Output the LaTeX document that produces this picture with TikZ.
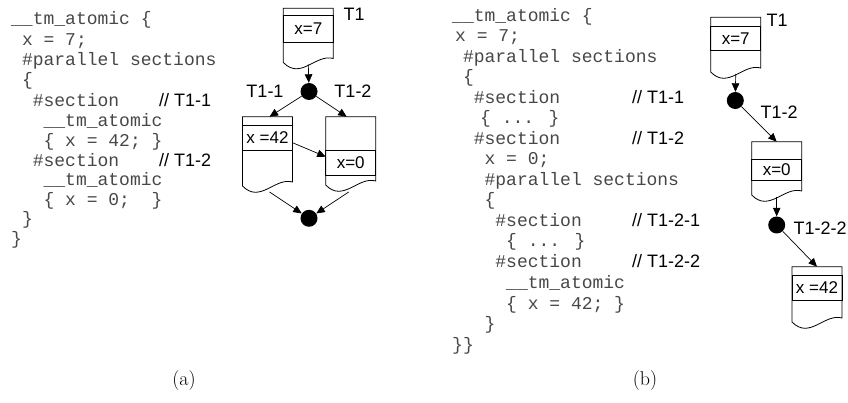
\documentclass[tikz,border=0pt]{standalone}
\usepackage{fontspec}
\newfontfamily\codefont{Liberation Mono}
\newfontfamily\labelfont{Liberation Sans}
\usetikzlibrary{arrows.meta,calc}

% outline of a "document" box: flat top, wavy bottom edge
\newcommand\docoutline[1]{%
  \draw[line width=0.8pt] (#1.north west) -- (#1.north east) -- ($(#1.south east)+(0,-6)$)
    .. controls ($(#1.south east)+(-17.5,-11)$) and ($(#1.south west)+(17.5,16)$) ..
    ($(#1.south west)+(0,-2)$) -- cycle;}

\begin{document}
\begin{tikzpicture}[x=1pt,y=-1pt,
  code/.style={anchor=base west, inner sep=0pt, font=\codefont\fontsize{18}{20}\selectfont, text=black!72},
  cmt/.style={anchor=base west, inner sep=0pt, font=\labelfont\fontsize{18}{20}\selectfont},
  lbl/.style={inner sep=0pt, font=\labelfont\fontsize{18}{20}\selectfont},
  docbox/.style={minimum width=50pt, inner sep=0pt, outer sep=0pt},
  band/.style={draw, line width=0.8pt, minimum width=50pt, inner sep=0pt, outer sep=0pt,
    font=\labelfont\fontsize{17}{20}\selectfont},
  dot/.style={circle, fill=black, minimum size=17pt, inner sep=0pt},
  arr/.style={line width=0.7pt, -{Triangle[length=8.5pt,width=7.5pt]}},
  caption/.style={inner sep=0pt, font=\fontsize{20}{24}\selectfont}
]
\useasboundingbox (0,0) rectangle (848,403);

% ---------- (a) source ----------
\node[code] (la1)  at (11,25)  {\_\_tm\_atomic \{};
\node[code] (la2)  at (11,46)  {\ x = 7;};
\node[code] (la3)  at (11,66)  {\ \#parallel sections};
\node[code] (la4)  at (11,86)  {\ \{};
\node[code] (la5)  at (11,107) {\ \ \#section};
\node[code] (la6)  at (11,127) {\ \ \ \_\_tm\_atomic};
\node[code] (la7)  at (11,147) {\ \ \ \{ x = 42; \}};
\node[code] (la8)  at (11,167) {\ \ \#section};
\node[code] (la9)  at (11,186) {\ \ \ \_\_tm\_atomic};
\node[code] (la10) at (11,206) {\ \ \ \{ x = 0;\ \ \}};
\node[code] (la11) at (11,225) {\ \}};
\node[code] (la12) at (11,244) {\}};
\node[cmt] (lc1) at (159,107) {// T1-1};
\node[cmt] (lc2) at (159,167) {// T1-2};

% ---------- (a) graph ----------
\node[docbox, minimum height=56.2pt] (t1) at (308.3,36.4) {};
\node[band, minimum height=26.6pt] (t1v) at (308.3,29) {x=7};
\docoutline{t1}
\node[lbl] (t1l) at (354,14) {T1};

\node[dot] (f1) at (309,91.5) {};
\node[lbl] (f1l) at (265,91) {T1-1};
\node[lbl] (f1r) at (353,91) {T1-2};

\node[docbox, minimum height=71.3pt] (a1) at (267.5,152.35) {};
\node[band, minimum height=25pt] (a1v) at (267.5,137.5) {x =42};
\docoutline{a1}

\node[docbox, minimum height=70.3pt] (a2) at (350.7,151.85) {};
\node[band, minimum height=24.3pt] (a2v) at (350.7,162.85) {x=0};
\docoutline{a2}

\node[dot] (j1) at (309,218.3) {};

\draw[arr] (t1.south) -- (f1);
\draw[arr] (f1) -- ($(a1.north)+(2,0)$);
\draw[arr] (f1) -- ($(a2.north)+(-4,0)$);
\draw[arr] ($(a1.north east)+(0,26)$) -- ($(a2.north west)+(0,40)$);
\draw[arr] ($(a1.south)+(2,4)$) -- (j1);
\draw[arr] ($(a2.south)+(-2,5)$) -- (j1);

% ---------- (b) source ----------
\node[code] (lb1)  at (452,22)  {\_\_tm\_atomic \{};
\node[code] (lb2)  at (455,42)  {x = 7;};
\node[code] (lb3)  at (452,63)  {\ \#parallel sections};
\node[code] (lb4)  at (452,83)  {\ \{};
\node[code] (lb5)  at (452,104) {\ \ \#section};
\node[code] (lb6)  at (480,124) {\{ ... \}};
\node[code] (lb7)  at (452,145) {\ \ \#section};
\node[code] (lb8)  at (452,165) {\ \ \ x = 0;};
\node[code] (lb9)  at (452,186) {\ \ \ \#parallel sections};
\node[code] (lb10) at (452,206) {\ \ \ \{};
\node[code] (lb11) at (452,227) {\ \ \ \ \#section};
\node[code] (lb12) at (452,247) {\ \ \ \ \ \{ ... \}};
\node[code] (lb13) at (452,268) {\ \ \ \ \#section};
\node[code] (lb14) at (452,288) {\ \ \ \ \ \_\_tm\_atomic};
\node[code] (lb15) at (452,309) {\ \ \ \ \ \{ x = 42; \}};
\node[code] (lb16) at (452,329) {\ \ \ \}};
\node[code] (lb17) at (452,350) {\}\}};
\node[cmt] (rc1) at (632,104) {// T1-1};
\node[cmt] (rc2) at (632,145) {// T1-2};
\node[cmt] (rc3) at (632,227) {// T1-2-1};
\node[cmt] (rc4) at (632,268) {// T1-2-2};

% ---------- (b) graph ----------
\node[docbox, minimum height=56.7pt] (b0) at (735.7,45.65) {};
\node[band, minimum height=24.7pt] (b0v) at (735.7,38.35) {x=7};
\docoutline{b0}
\node[lbl] (b0l) at (777,20) {T1};

\node[dot] (c1) at (735.3,100.5) {};
\node[lbl] (c1l) at (779,112) {T1-2};

\node[docbox, minimum height=55.3pt] (b1) at (776.7,169.35) {};
\node[band, minimum height=21pt] (b1v) at (776.7,169.5) {x=0};
\docoutline{b1}

\node[dot] (c2) at (776.7,225) {};
\node[lbl] (c2l) at (820,228) {T1-2-2};

\node[docbox, minimum height=57.3pt] (b2) at (817,295.35) {};
\node[band, minimum height=25pt] (b2v) at (817,287.5) {x =42};
\docoutline{b2}

\draw[arr] (b0.south) -- (c1);
\draw[arr] (c1) -- (b1.north);
\draw[arr] (b1.south) -- (c2);
\draw[arr] (c2) -- (b2.north);

% ---------- captions ----------
\node[caption] (capa) at (184,381) {(a)};
\node[caption] (capb) at (645,381) {(b)};
\end{tikzpicture}
\end{document}
